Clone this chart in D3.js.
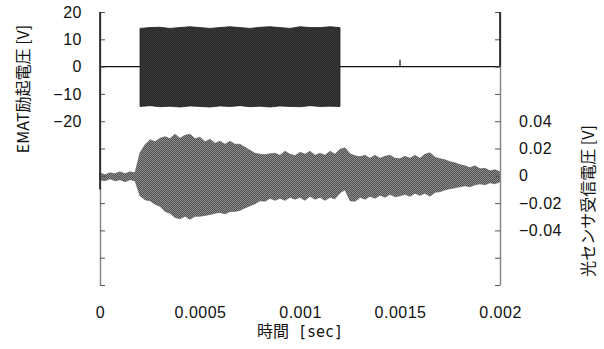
<!DOCTYPE html>
<html>
<head>
<meta charset="utf-8">
<script src="https://cdn.jsdelivr.net/npm/d3@7"></script>
<style>
  body { margin: 0; background: #fff; }
  svg { display: block; }
  .tick text { font-family: "Liberation Sans", Arial, sans-serif; font-size: 16px; fill: #111; letter-spacing: 0.5px; }
  .label { font-family: "Noto Sans CJK JP", sans-serif; font-size: 16px; fill: #111; }
</style>
</head>
<body>
<div id="chart"></div>
<script>
// time axis
const xTicks = [0, 0.0005, 0.001, 0.0015, 0.002];
const xTickLabels = ["0", "0.0005", "0.001", "0.0015", "0.002"];

// left axis (EMAT excitation voltage, V)
const leftTicks = [20, 10, 0, -10, -20, -30, -40, -50, -60, -70, -80];
const leftTickLabels = ["20", "10", "0", "\u221210", "\u221220", "", "", "", "", "", ""];

// right axis (optical sensor voltage, V)
const rightTicks = [0.12, 0.1, 0.08, 0.06, 0.04, 0.02, 0, -0.02, -0.04, -0.06, -0.08];
const rightTickLabels = ["", "", "", "", "0.04", "0.02", "0", "\u22120.02", "\u22120.04", "", ""];

// EMAT burst envelope, 0.0002 .. 0.0012 s every 0.00005 s
const ematTop = [14.0, 14.3, 14.4, 14.0, 14.3, 14.6, 14.3, 14.0, 14.3, 14.6, 14.3, 14.0, 14.4, 14.6, 14.3, 14.0, 14.6, 14.3, 14.3, 14.6, 14.3];
const ematBottom = [-14.6, -14.3, -14.7, -14.5, -14.8, -14.4, -14.6, -14.8, -14.4, -14.6, -14.3, -14.7, -14.5, -14.8, -14.4, -14.6, -14.7, -14.3, -14.6, -14.5, -14.6];
// EMAT baseline outside the burst (time, volts)
const ematLineT = [0, 0.0002, 0.0012, 0.0015, 0.0015, 0.0015, 0.002];
const ematLineV = [0, 0, 0, 0, 2.5, 0, 0];

// optical signal envelope, 0 .. 0.002 s every 0.000025 s
const optTop = [0.0022, 0.0007, 0.0022, 0.0015, 0.0029, 0.0015, 0.0029, 0.0022,
  0.0169, 0.0227, 0.0264, 0.0250, 0.0275, 0.0286, 0.0272, 0.0305, 0.0275, 0.0297, 0.0305, 0.0272,
  0.0283, 0.0250, 0.0268, 0.0238, 0.0253, 0.0231, 0.0253, 0.0231, 0.0231, 0.0209,
  0.0187, 0.0165, 0.0158, 0.0154, 0.0161, 0.0165, 0.0150, 0.0180, 0.0158, 0.0147,
  0.0172, 0.0158, 0.0180, 0.0150, 0.0165, 0.0150, 0.0180, 0.0158, 0.0194, 0.0205,
  0.0161, 0.0147, 0.0139, 0.0150, 0.0128, 0.0150, 0.0128, 0.0143, 0.0150, 0.0128,
  0.0125, 0.0143, 0.0128, 0.0150, 0.0128, 0.0158, 0.0169, 0.0136, 0.0125, 0.0117,
  0.0103, 0.0095, 0.0081, 0.0073, 0.0059, 0.0073, 0.0051, 0.0055, 0.0037, 0.0044, 0.0029];
const optBottom = [-0.0029, -0.0037, -0.0022, -0.0037, -0.0029, -0.0044, -0.0029, -0.0037,
  -0.0147, -0.0176, -0.0183, -0.0209, -0.0223, -0.0261, -0.0275, -0.0305, -0.0315, -0.0297, -0.0319, -0.0297,
  -0.0297, -0.0290, -0.0283, -0.0275, -0.0268, -0.0279, -0.0261, -0.0261, -0.0253, -0.0235,
  -0.0220, -0.0205, -0.0183, -0.0187, -0.0165, -0.0180, -0.0165, -0.0180, -0.0158, -0.0172,
  -0.0158, -0.0180, -0.0150, -0.0172, -0.0158, -0.0180, -0.0158, -0.0169, -0.0125, -0.0103,
  -0.0183, -0.0187, -0.0158, -0.0172, -0.0150, -0.0165, -0.0143, -0.0158, -0.0136, -0.0154,
  -0.0147, -0.0136, -0.0150, -0.0128, -0.0143, -0.0128, -0.0150, -0.0121, -0.0117, -0.0103,
  -0.0095, -0.0088, -0.0081, -0.0073, -0.0081, -0.0066, -0.0059, -0.0066, -0.0051, -0.0059, -0.0044];

const margin = { top: 12, right: 104, bottom: 64, left: 100 };
const width = 604 - margin.left - margin.right;
const height = 349 - margin.top - margin.bottom;

const x = d3.scaleLinear().domain([0, 0.002]).range([0, width]);
const yL = d3.scaleLinear().domain([-80, 20]).range([height, 0]);
const yR = d3.scaleLinear().domain([-0.08, 0.12]).range([height, 0]);

const root = d3.select('#chart').append('svg')
  .attr('width', 604)
  .attr('height', 349);

// fine checker textures, like the dense scanned waveform
const defs = root.append('defs');
function checker(id, a, b) {
  const p = defs.append('pattern')
    .attr('id', id)
    .attr('width', 2).attr('height', 2)
    .attr('patternUnits', 'userSpaceOnUse');
  p.append('rect').attr('width', 2).attr('height', 2).attr('fill', a);
  p.append('rect').attr('width', 1).attr('height', 1).attr('fill', b);
  p.append('rect').attr('x', 1).attr('y', 1).attr('width', 1).attr('height', 1).attr('fill', b);
}
checker('optTex', '#505050', '#8e8e8e');
checker('ematTex', '#262626', '#3c3c3c');

const svg = root.append('g')
  .attr('transform', `translate(${margin.left}, ${margin.top})`);

// optical signal
const optT = optTop.map((d, i) => i * 0.000025);
svg.append('path')
  .datum(optTop.map((d, i) => ({ t: optT[i], hi: d, lo: optBottom[i] })))
  .attr('fill', 'url(#optTex)')
  .attr('stroke', '#555')
  .attr('stroke-width', 0.6)
  .attr('d', d3.area()
    .x((d) => x(d.t))
    .y0((d) => yR(d.lo))
    .y1((d) => yR(d.hi)));

// EMAT baseline
svg.append('path')
  .datum(ematLineT.map((t, i) => ({ t: t, v: ematLineV[i] })))
  .attr('fill', 'none')
  .attr('stroke', '#111')
  .attr('stroke-width', 1.2)
  .attr('d', d3.line().x((d) => x(d.t)).y((d) => yL(d.v)));

// EMAT burst
svg.append('path')
  .datum(ematTop.map((d, i) => ({ t: 0.0002 + i * 0.00005, hi: d, lo: ematBottom[i] })))
  .attr('fill', 'url(#ematTex)')
  .attr('stroke', '#222')
  .attr('stroke-width', 0.8)
  .attr('d', d3.area()
    .x((d) => x(d.t))
    .y0((d) => yL(d.lo))
    .y1((d) => yL(d.hi)));

// left axis, ticks inward
const leftAxis = svg.append('g')
  .attr('class', 'axis left')
  .call(d3.axisLeft(yL)
    .tickValues(leftTicks)
    .tickSizeInner(-5)
    .tickSizeOuter(0)
    .tickPadding(18)
    .tickFormat((d, i) => leftTickLabels[i]));
leftAxis.select('.domain').attr('stroke', '#888').attr('stroke-width', 1.5);
leftAxis.selectAll('.tick line').attr('stroke', '#555');
svg.append('line')
  .attr('x1', 0).attr('x2', 0)
  .attr('y1', yL(20)).attr('y2', yL(-45))
  .attr('stroke', '#111').attr('stroke-width', 1.5);

// right axis, ticks inward
const rightAxis = svg.append('g')
  .attr('class', 'axis right')
  .attr('transform', `translate(${width}, 0)`)
  .call(d3.axisRight(yR)
    .tickValues(rightTicks)
    .tickSizeInner(-5)
    .tickSizeOuter(0)
    .tickPadding(19)
    .tickFormat((d, i) => rightTickLabels[i]));
rightAxis.select('.domain').attr('stroke', '#888').attr('stroke-width', 1.5);
rightAxis.selectAll('.tick line').attr('stroke', '#555');
svg.append('line')
  .attr('x1', width).attr('x2', width)
  .attr('y1', yR(0.12)).attr('y2', yR(0.08))
  .attr('stroke', '#111').attr('stroke-width', 1.5);

// bottom tick labels, no axis line
const bottomAxis = svg.append('g')
  .attr('class', 'axis x')
  .attr('transform', `translate(0, ${height})`)
  .call(d3.axisBottom(x)
    .tickValues(xTicks)
    .tickSize(0)
    .tickPadding(22)
    .tickFormat((d, i) => xTickLabels[i]));
bottomAxis.select('.domain').remove();

// axis titles
svg.append('text')
  .attr('class', 'label')
  .attr('text-anchor', 'middle')
  .attr('transform', `translate(${width / 2}, ${height + 52})`)
  .html('時間<tspan font-family="DejaVu Sans Mono" font-size="15"> [sec]</tspan>');

svg.append('text')
  .attr('class', 'label')
  .attr('text-anchor', 'middle')
  .attr('transform', `translate(${-margin.left + 29}, 77) rotate(-90)`)
  .text('EMAT励起電圧 [V]');

svg.append('text')
  .attr('class', 'label')
  .attr('text-anchor', 'middle')
  .attr('transform', `translate(${width + 94}, 189) rotate(-90)`)
  .text('光センサ受信電圧 [V]');
</script>
</body>
</html>
